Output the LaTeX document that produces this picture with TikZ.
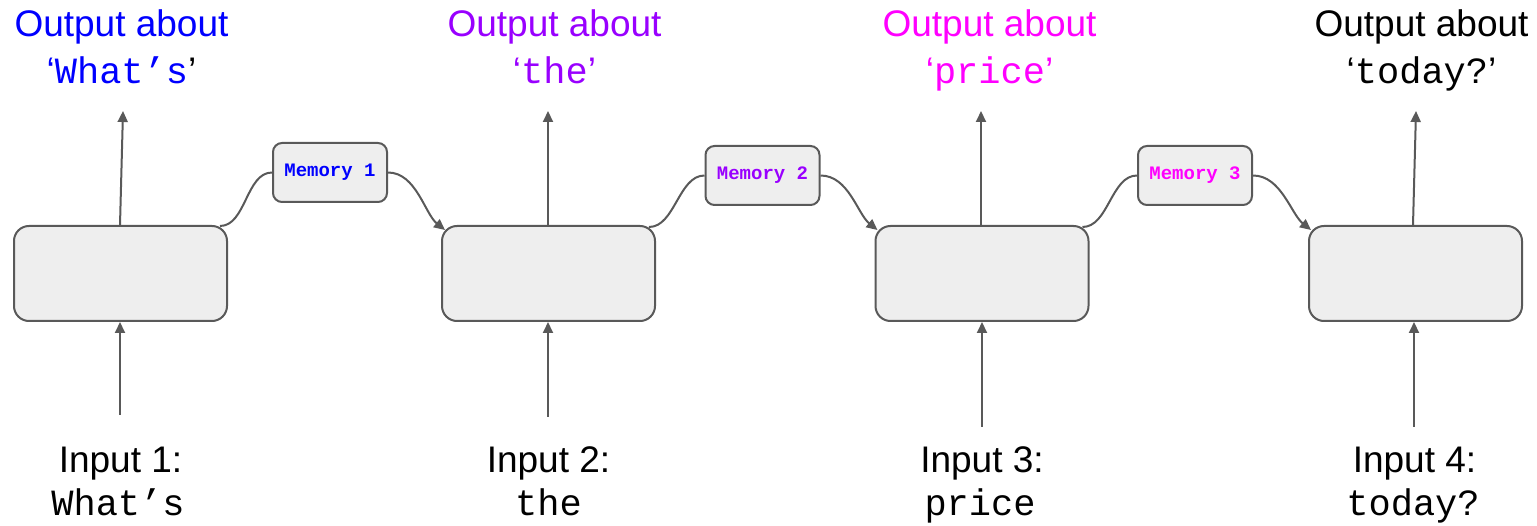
\documentclass[tikz,border=0pt]{standalone}
\usepackage{fontspec}
\setmainfont{Liberation Sans}
\setsansfont{Liberation Sans}
\setmonofont{Liberation Mono}
\usetikzlibrary{arrows.meta,calc}

\definecolor{edgegray}{HTML}{595959}
\definecolor{boxfill}{HTML}{EEEEEE}
\definecolor{cblue}{HTML}{0000FF}
\definecolor{cpurple}{HTML}{9900FF}
\definecolor{cmagenta}{HTML}{FF00FF}

\tikzset{
  cell/.style={draw=edgegray, fill=boxfill, line width=2pt, rounded corners=15pt,
    minimum width=213pt, minimum height=95pt, inner sep=0pt},
  memory/.style={draw=edgegray, fill=boxfill, line width=2pt, rounded corners=9pt,
    minimum width=114pt, minimum height=59pt, inner sep=0pt,
    font=\fontsize{19}{22}\selectfont\ttfamily\bfseries},
  lab/.style={anchor=base, inner sep=0pt, font=\fontsize{37}{44}\selectfont\sffamily},
  word/.style={anchor=base, inner sep=0pt, font=\fontsize{37}{44}\selectfont\ttfamily},
  arr/.style={draw=edgegray, line width=2pt, -{Triangle[length=11pt,width=10pt]}},
  link/.style={draw=edgegray, line width=2pt},
}

% quoted word: outer quotes in the sans face, the word in mono
\newcommand{\qword}[2]{{\sffamily‘}{\ttfamily #1}{\sffamily\color{#2}’}}

\begin{document}
\begin{tikzpicture}[x=1pt, y=-1pt]
\path[use as bounding box] (0,0) rectangle (1537,526);

% recurrent cells
\node[cell] (b1) at (120.5,273.5) {};
\node[cell] (b2) at (548.5,273.5) {};
\node[cell] (b3) at (982,273.5) {};
\node[cell] (b4) at (1415.5,273.5) {};

% memory states
\node[memory, text=cblue]    (m1) at (330,172.5)  {Memory 1};
\node[memory, text=cpurple]  (m2) at (762.5,175.5) {Memory 2};
\node[memory, text=cmagenta] (m3) at (1195,175.5) {Memory 3};

% output labels
\node[lab, text=cblue]    (o1) at (121.5,37) {Output about};
\node[word, text=cblue]   (w1) at (121.5,84) {\qword{What’s}{black}};
\node[lab, text=cpurple]  (o2) at (554.5,37) {Output about};
\node[word, text=cpurple] (w2) at (554.5,84) {\qword{the}{cpurple}};
\node[lab, text=cmagenta] (o3) at (989.5,37) {Output about};
\node[word, text=cmagenta](w3) at (989.5,84) {\qword{price}{cmagenta}};
\node[lab]                (o4) at (1421.5,37) {Output about};
\node[word]               (w4) at (1421.5,84) {\qword{today?}{black}};

% input labels
\node[lab]  (i1) at (120.5,472) {Input 1:};
\node[word] (j1) at (118,515) {What’s};
\node[lab]  (i2) at (548.5,472) {Input 2:};
\node[word] (j2) at (548.5,515) {the};
\node[lab]  (i3) at (982,472) {Input 3:};
\node[word] (j3) at (980,515) {price};
\node[lab]  (i4) at (1414.5,472) {Input 4:};
\node[word] (j4) at (1413,515) {today?};

% free ends of the vertical arrows
\coordinate (t1) at (123,111);
\coordinate (t2) at (548,111);
\coordinate (t3) at (981,111);
\coordinate (t4) at (1416,111);
\coordinate (s1) at (120,415);
\coordinate (s2) at (548,417);
\coordinate (s3) at (982,427);
\coordinate (s4) at (1414,427);

% outputs
\draw[arr] ($(b1.north)+(-0.5,0)$) -- (t1);
\draw[arr] ($(b2.north)+(-0.5,0)$) -- (t2);
\draw[arr] ($(b3.north)+(-1,0)$) -- (t3);
\draw[arr] ($(b4.north)+(-2.5,0)$) -- (t4);

% inputs
\draw[arr] (s1) -- ($(b1.south)+(-0.5,0)$);
\draw[arr] (s2) -- ($(b2.south)+(-0.5,0)$);
\draw[arr] (s3) -- (b3.south);
\draw[arr] (s4) -- ($(b4.south)+(-1.5,0)$);

% memory passed along the chain
\draw[link] ($(b1.north east)+(-8,1)$) .. controls +(26,0) and +(-26,0) .. (m1.west);
\draw[arr]  (m1.east) .. controls +(28,0) and +(-20,-16) .. ($(b2.north west)+(4,5)$);
\draw[link] ($(b2.north east)+(-7,2)$) .. controls +(26,0) and +(-26,0) .. (m2.west);
\draw[arr]  (m2.east) .. controls +(28,0) and +(-20,-16) .. ($(b3.north west)+(3,5)$);
\draw[link] ($(b3.north east)+(-7,2)$) .. controls +(26,0) and +(-26,0) .. (m3.west);
\draw[arr]  (m3.east) .. controls +(28,0) and +(-20,-16) .. ($(b4.north west)+(3,5)$);
\end{tikzpicture}
\end{document}
